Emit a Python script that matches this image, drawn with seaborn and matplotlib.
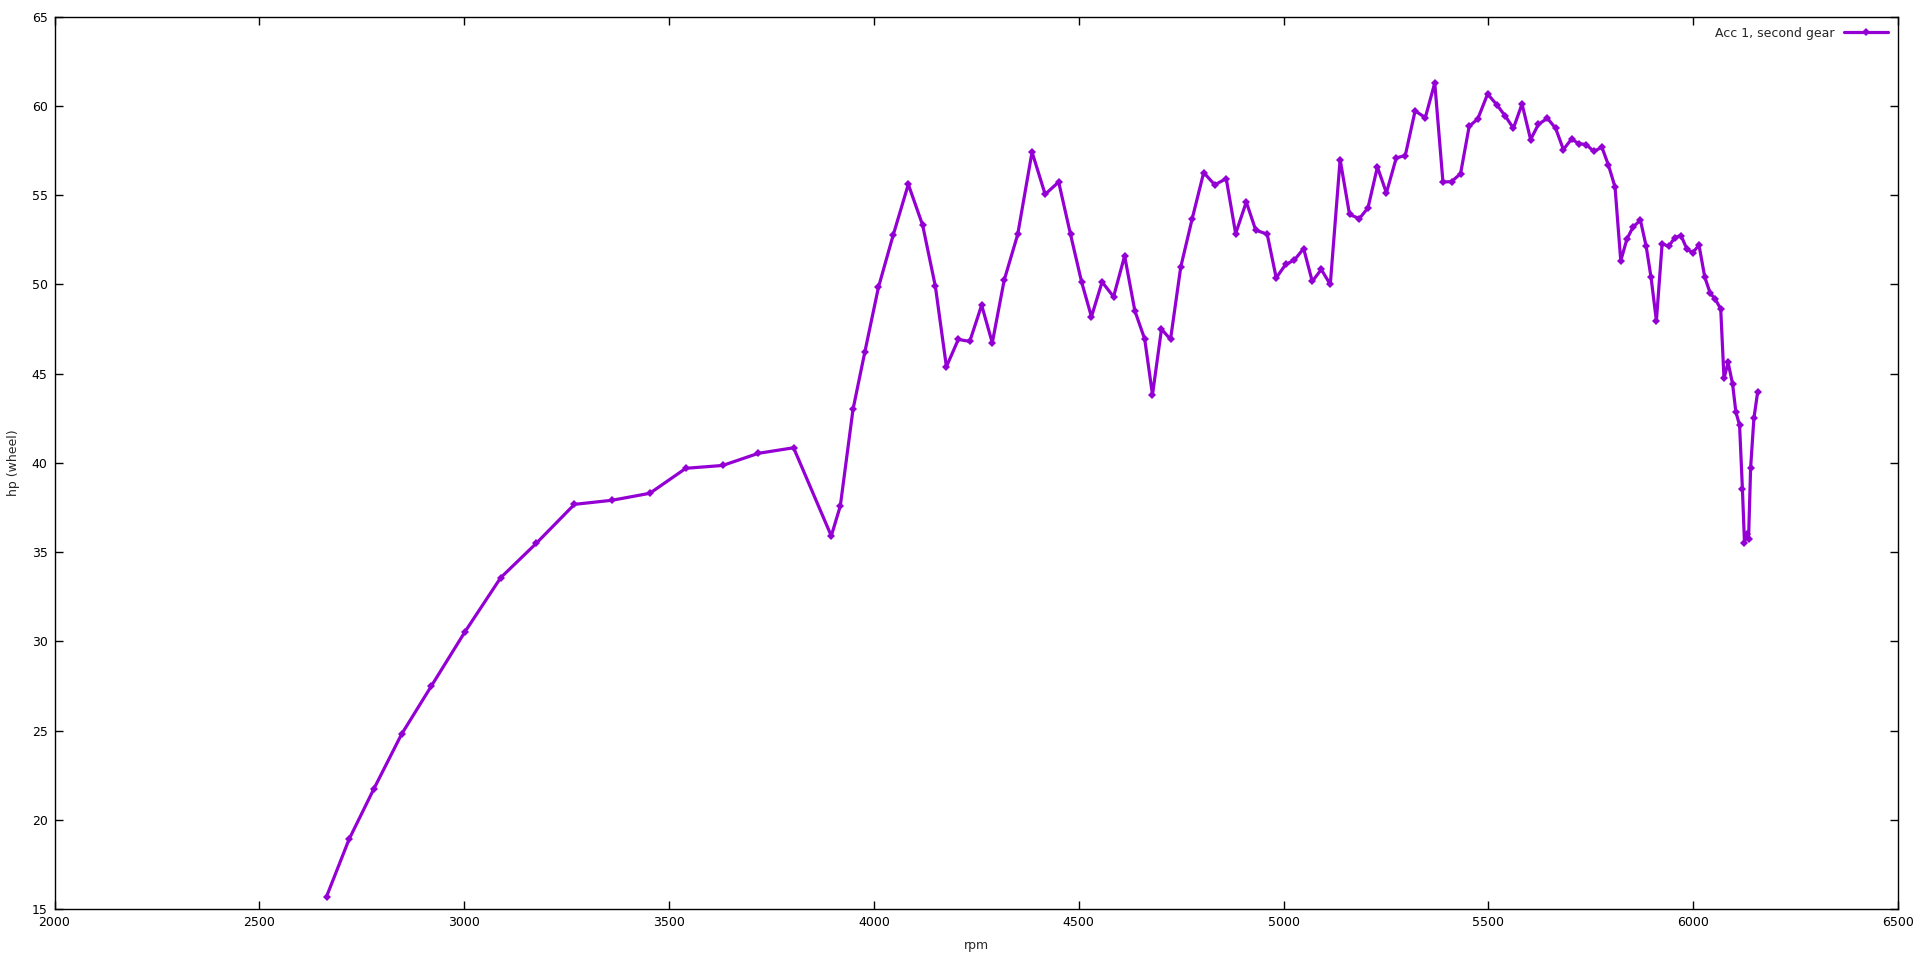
import matplotlib
matplotlib.use("Agg")
import matplotlib.pyplot as plt
import seaborn as sns
import pandas as pd

sns.set_style("ticks")
plt.rcParams['font.family'] = ['DejaVu Sans']

# dyno run, second gear
rpm = [2664, 2719, 2779, 2847, 2920, 3001, 3089, 3176, 3269, 3361,
       3453, 3541, 3631, 3718, 3804, 3896, 3918, 3949, 3978, 4011,
       4047, 4084, 4119, 4150, 4177, 4206, 4234, 4263, 4289, 4318,
       4351, 4386, 4418, 4451, 4480, 4507, 4531, 4557, 4585, 4612,
       4637, 4661, 4680, 4702, 4724, 4749, 4777, 4805, 4832, 4860,
       4883, 4909, 4932, 4960, 4982, 5005, 5026, 5049, 5070, 5092,
       5114, 5138, 5161, 5185, 5206, 5229, 5251, 5275, 5297, 5321,
       5346, 5369, 5389, 5410, 5432, 5453, 5474, 5498, 5520, 5541,
       5561, 5582, 5603, 5622, 5644, 5664, 5683, 5703, 5720, 5739,
       5757, 5777, 5793, 5809, 5823, 5838, 5853, 5871, 5885, 5897,
       5910, 5924, 5940, 5955, 5970, 5985, 5999, 6014, 6028, 6041,
       6054, 6067, 6075, 6085, 6096, 6104, 6113, 6120, 6125, 6130,
       6135, 6140, 6148, 6157]
hp = [15.70, 18.91, 21.71, 24.79, 27.50, 30.50, 33.56, 35.49, 37.67, 37.90,
      38.29, 39.69, 39.85, 40.53, 40.84, 35.90, 37.58, 42.99, 46.22, 49.82,
      52.75, 55.60, 53.31, 49.89, 45.38, 46.91, 46.80, 48.83, 46.72, 50.23,
      52.79, 57.41, 55.04, 55.73, 52.79, 50.13, 48.18, 50.13, 49.30, 51.59,
      48.51, 46.93, 43.81, 47.49, 46.91, 50.97, 53.68, 56.26, 55.57, 55.92,
      52.84, 54.61, 53.03, 52.81, 50.36, 51.11, 51.35, 52.00, 50.16, 50.83,
      49.99, 56.99, 53.91, 53.68, 54.28, 56.57, 55.12, 57.08, 57.21, 59.71,
      59.34, 61.28, 55.73, 55.75, 56.20, 58.85, 59.26, 60.66, 60.07, 59.43,
      58.74, 60.10, 58.11, 58.96, 59.30, 58.74, 57.55, 58.14, 57.88, 57.83,
      57.44, 57.68, 56.67, 55.45, 51.31, 52.53, 53.21, 53.59, 52.13, 50.38,
      47.95, 52.28, 52.12, 52.62, 52.73, 51.95, 51.78, 52.19, 50.41, 49.52,
      49.15, 48.62, 44.73, 45.62, 44.41, 42.84, 42.11, 38.51, 35.52, 36.00,
      35.75, 39.72, 42.49, 43.94]

df = pd.DataFrame({"rpm": rpm, "hp": hp})

fig = plt.figure(figsize=(19.2, 9.61), dpi=100)
ax = fig.add_axes([0.0284, 0.0541, 0.9602, 0.9287])

sns.lineplot(data=df, x="rpm", y="hp", ax=ax, sort=False, color="#9400D3",
             linewidth=2.3, marker="D", markersize=4, markeredgewidth=0,
             label="Acc 1, second gear")

ax.set_xlim(2000, 6500)
ax.set_ylim(15, 65)
ax.set_xticks(range(2000, 6501, 500))
ax.set_yticks(range(15, 66, 5))
ax.tick_params(direction="in", length=5.5, width=1, labelsize=9, pad=5,
               top=True, right=True, labeltop=False, labelright=False, colors="black")
for s in ax.spines.values():
    s.set_visible(True)
    s.set_linewidth(1)
    s.set_color("black")
ax.set_xlabel("rpm", fontsize=9, labelpad=7)
ax.set_ylabel("hp (wheel)", fontsize=9, labelpad=8)

leg = ax.legend(loc="upper right", frameon=False, markerfirst=False,
                fontsize=9, handlelength=3.5, borderaxespad=0.4)

fig.savefig("out.png", dpi=100, facecolor="white")
